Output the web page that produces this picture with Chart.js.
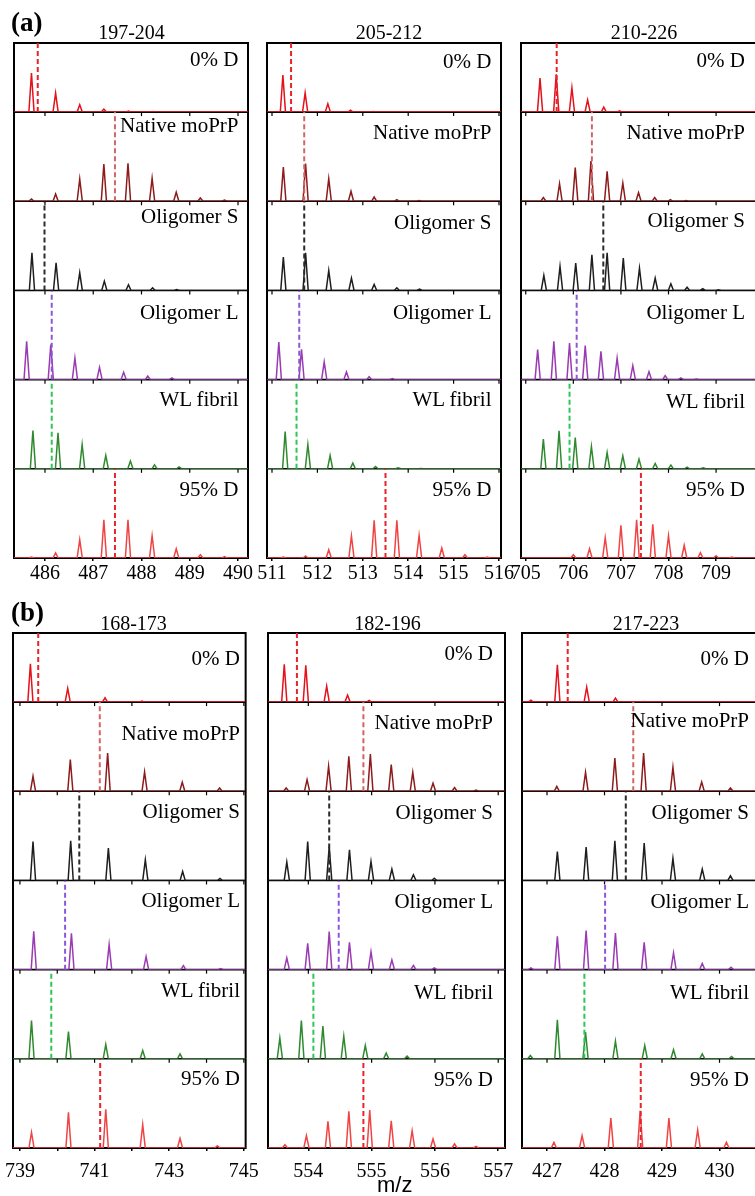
<!DOCTYPE html>
<html>
<head>
<meta charset="utf-8">
<script src="https://cdn.jsdelivr.net/npm/chart.js@4.4.0/dist/chart.umd.min.js"></script>
<style>
  body { margin: 0; background: #fff; }
  #fig { position: relative; width: 755px; height: 1196px; overflow: hidden;
         font-family: 'Liberation Serif', 'Times New Roman', serif; color: #000; }
  #fig canvas { position: absolute; }
  .lbl { position: absolute; font-size: 21px; line-height: 21px; white-space: nowrap; text-align: right; }
  .ttl { position: absolute; font-size: 20px; line-height: 20px; white-space: nowrap; text-align: center; width: 120px; }
  .pnl { position: absolute; font-size: 27px; line-height: 27px; font-weight: bold; }
  .mz  { position: absolute; font-family: 'Liberation Sans', Arial, sans-serif; font-size: 22px; line-height: 22px; }
</style>
</head>
<body>
<div id="fig"></div>
<script>
// row names, top to bottom
var rowLabels = ['0% D', 'Native moPrP', 'Oligomer S', 'Oligomer L', 'WL fibril', '95% D'];
var aTitles = ['197-204', '205-212', '210-226'];
var bTitles = ['168-173', '182-196', '217-223'];

// ---- (a) 197-204 ----
var a1Mz = [
  [485.72, 486.22, 486.72, 487.22, 487.73, 488.24],
  [485.72, 486.22, 486.72, 487.22, 487.72, 488.22, 488.72, 489.22, 489.72],
  [485.73, 486.23, 486.72, 487.23, 487.73, 488.23, 488.73],
  [485.62, 486.12, 486.62, 487.13, 487.63, 488.13, 488.63],
  [485.75, 486.27, 486.77, 487.26, 487.77, 488.27, 488.78],
  [485.72, 486.22, 486.72, 487.22, 487.72, 488.22, 488.72, 489.22, 489.72]
];
var a1Int = [
  [39, 19, 7.3, 3, 1, 0.5],
  [2.3, 7.3, 22.3, 37.3, 38, 23, 9, 3.3, 1.3],
  [37.7, 27.7, 17.7, 9.3, 5.7, 2.7, 1],
  [38.3, 35, 21.7, 12.3, 7.3, 3.7, 1.7],
  [38.3, 36, 24.3, 13.3, 7.7, 4, 2],
  [1, 5, 18.3, 38.3, 38.3, 22.3, 9.3, 3.3, 1.3]
];
var a1Centroid = [485.85, 487.45, 485.99, 486.14, 486.14, 487.45];
var a1Ticks = [486, 487, 488, 489, 490];
var a1TickLabels = ['486', '487', '488', '489', '490'];

// ---- (a) 205-212 ----
var a2Mz = [
  [511.24, 511.73, 512.23, 512.73, 513.23],
  [511.25, 511.74, 512.25, 512.74, 513.25, 513.75, 514.24],
  [511.25, 511.74, 512.25, 512.75, 513.25, 513.75, 514.25],
  [511.15, 511.65, 512.15, 512.64, 513.14, 513.65],
  [511.29, 511.79, 512.28, 512.78, 513.28, 513.78, 514.28],
  [511.25, 511.74, 512.25, 512.75, 513.25, 513.75, 514.24, 514.74, 515.25, 515.74]
];
var a2Int = [
  [37, 19.3, 8.3, 2, 0.7],
  [34.3, 37.7, 22.7, 10, 4.3, 1.7, 0.7],
  [33.3, 37.7, 20, 12.3, 6, 2.7, 1.3],
  [37.7, 30.3, 17.7, 7.7, 3, 1],
  [37.3, 24.3, 13.3, 5.7, 2.3, 1, 0.3],
  [1, 2, 8.3, 22, 37.7, 37.7, 22.7, 10, 3.3, 1]
];
var a2Centroid = [511.42, 511.71, 511.71, 511.60, 511.54, 513.50];
var a2Ticks = [511, 512, 513, 514, 515, 516];
var a2TickLabels = ['511', '512', '513', '514', '515', '516'];

// ---- (a) 210-226 ----
var a3Mz = [
  [705.30, 705.64, 705.97, 706.30, 706.64, 706.97, 707.30],
  [705.37, 705.71, 706.04, 706.37, 706.71, 707.04, 707.37, 707.71, 708.04, 708.37],
  [705.38, 705.72, 706.05, 706.39, 706.71, 707.05, 707.39, 707.72, 708.05, 708.39, 708.72, 709.05],
  [705.25, 705.59, 705.92, 706.25, 706.58, 706.92, 707.25, 707.59, 707.93, 708.26, 708.59],
  [705.37, 705.70, 706.04, 706.38, 706.71, 707.04, 707.38, 707.72, 708.05, 708.39, 708.73],
  [706.00, 706.34, 706.67, 707.00, 707.33, 707.67, 708.00, 708.33, 708.67, 709.00, 709.33]
];
var a3Int = [
  [34, 37.7, 24.3, 12.3, 5, 1.3, 0.3],
  [3.7, 17.7, 33.7, 40.3, 30, 18.3, 8.7, 3.7, 1.7, 0.7],
  [15, 24, 27.3, 35.7, 37.7, 32.3, 22.3, 12.3, 6.7, 3.3, 1.7, 0.7],
  [30, 38.3, 36.7, 34, 28.3, 21.7, 14, 8, 4, 1.7, 0.7],
  [29.7, 38, 31.3, 22.3, 16.3, 13, 9.7, 5.3, 3.7, 1.7, 1],
  [3.3, 9.3, 20.3, 32.7, 38.3, 33.7, 22.3, 12.7, 5.3, 2.3, 1]
];
var a3Centroid = [705.65, 706.39, 706.63, 706.07, 705.92, 707.42];
var a3Ticks = [705, 706, 707, 708, 709];
var a3TickLabels = ['705', '706', '707', '708', '709'];

// ---- (b) 168-173 ----
var b1Mz = [
  [739.28, 740.28, 741.28, 742.27],
  [739.35, 740.35, 741.35, 742.34, 743.35, 744.35],
  [739.35, 740.36, 741.37, 742.36, 743.36, 744.36],
  [739.37, 740.38, 741.39, 742.38, 743.38, 744.38],
  [739.31, 740.30, 741.30, 742.29, 743.29],
  [739.31, 740.30, 741.30, 742.29, 743.29, 744.29]
];
var b1Int = [
  [38.3, 13.7, 4.3, 1],
  [15, 31.7, 38.3, 19.3, 9, 3.3],
  [39, 39.7, 32.3, 20.7, 9, 2],
  [38.3, 36.3, 25, 13, 4, 1],
  [38.3, 27.3, 14.3, 8.3, 5],
  [15.7, 35.7, 38.7, 23.3, 9.7, 2.3]
];
var b1Centroid = [739.49, 741.14, 740.59, 740.21, 739.84, 741.15];
var b1Ticks = [739, 740, 741, 742, 743, 744, 745];
var b1TickLabels = ['739', '', '741', '', '743', '', '745'];

// ---- (b) 182-196 ----
var b2Mz = [
  [553.62, 553.96, 554.29, 554.62, 554.96],
  [553.65, 553.98, 554.32, 554.64, 554.98, 555.31, 555.65, 555.97, 556.31, 556.65],
  [553.66, 553.99, 554.33, 554.65, 554.99, 555.32, 555.66, 555.99],
  [553.66, 553.99, 554.33, 554.65, 554.99, 555.32, 555.66, 555.99],
  [553.55, 553.89, 554.23, 554.56, 554.90, 555.23, 555.56],
  [553.63, 553.97, 554.31, 554.64, 554.97, 555.31, 555.64, 555.97, 556.31, 556.65]
];
var b2Int = [
  [37.7, 36.7, 16, 7, 1.7],
  [3.3, 11.7, 25, 35, 37.3, 26.7, 19, 8, 3.7, 1.3],
  [18.3, 39, 34, 30.7, 19, 11.3, 5.7, 2.3],
  [11.7, 26.3, 38, 27.3, 18, 9.7, 4.3, 1.7],
  [20.7, 38.3, 32.7, 22.7, 13.3, 5.7, 2.7],
  [3.3, 12.3, 26.7, 36.7, 38, 27.3, 17.3, 9, 4, 1.7]
];
var b2Centroid = [553.82, 554.87, 554.33, 554.48, 554.08, 554.87];
var b2Ticks = [554, 555, 556, 557];
var b2TickLabels = ['554', '555', '556', '557'];

// ---- (b) 217-223 ----
var b3Mz = [
  [426.72, 427.18, 427.69, 428.19, 428.69],
  [427.17, 427.67, 428.18, 428.68, 429.19, 429.69, 430.19],
  [427.18, 427.68, 428.18, 428.69, 429.19, 429.70, 430.19],
  [426.72, 427.18, 427.68, 428.19, 428.69, 429.20, 429.70, 430.20],
  [426.71, 427.18, 427.67, 428.19, 428.70, 429.20, 429.70, 430.21],
  [427.12, 427.61, 428.11, 428.62, 429.12, 429.62, 430.12]
];
var b3Int = [
  [2, 37.3, 15, 4, 0.7],
  [5, 19, 33.3, 38.3, 24, 9.3, 3.3],
  [29, 33.3, 39.7, 37.3, 22, 11.3, 4.7],
  [1.7, 33.3, 39, 36.7, 27.3, 16.7, 6.3, 2.3],
  [3.3, 39, 26.7, 17.7, 13.3, 9, 5, 2.3],
  [5.7, 12.3, 30, 37.3, 30, 18, 5.7]
];
var b3Centroid = [427.36, 428.50, 428.37, 428.01, 427.65, 428.63];
var b3Ticks = [427, 428, 429, 430];
var b3TickLabels = ['427', '428', '429', '430'];

// ---------- styles / layout ----------
var traceColors = ['#e3121b', '#8c1b1b', '#1e1e1e', '#9a3bb3', '#2f8a2f', '#f04444'];
var dashColors  = ['#e8232b', '#d46464', '#2a2a2a', '#8a58d8', '#2ec55a', '#e8232b'];
var rowWeights = [0.775, 1, 1, 1, 1, 1];
var serif = "'Liberation Serif', 'Times New Roman', serif";

var panelA = { top: 43, bottom: 558, tickPad: 1, titleTop: 22 };
var panelB = { top: 633, bottom: 1148, tickPad: 9, titleTop: 613 };

var columns = [
  { panel: panelA, title: aTitles[0], mz: a1Mz, ints: a1Int, cen: a1Centroid, ticks: a1Ticks, tickLabels: a1TickLabels,
    min: 485.358, max: 490.207, box: [14, 248], titleX: 131.5, labelRight: 238.5, labelOff: [10, 7, 8, 15, 13, 14] },
  { panel: panelA, title: aTitles[1], mz: a2Mz, ints: a2Int, cen: a2Centroid, ticks: a2Ticks, tickLabels: a2TickLabels,
    min: 510.89, max: 516.044, box: [267, 501], titleX: 389, labelRight: 491.5, labelOff: [12, 14, 14, 15, 13, 14] },
  { panel: panelA, title: aTitles[2], mz: a3Mz, ints: a3Int, cen: a3Centroid, ticks: a3Ticks, tickLabels: a3TickLabels,
    min: 704.90, max: 709.86, box: [521, 757], titleX: 644, labelRight: 745, labelOff: [11, 14, 12, 15, 15, 14] },
  { panel: panelB, title: bTitles[0], mz: b1Mz, ints: b1Int, cen: b1Centroid, ticks: b1Ticks, tickLabels: b1TickLabels,
    min: 738.814, max: 745.048, box: [13, 248], titleX: 133.5, labelRight: 240, labelOff: [19, 25, 13, 13, 14, 13] },
  { panel: panelB, title: bTitles[1], mz: b2Mz, ints: b2Int, cen: b2Centroid, ticks: b2Ticks, tickLabels: b2TickLabels,
    min: 553.363, max: 557.107, box: [268, 505], titleX: 387.5, labelRight: 493, labelOff: [14, 14, 14, 14, 16, 14] },
  { panel: panelB, title: bTitles[2], mz: b3Mz, ints: b3Int, cen: b3Centroid, ticks: b3Ticks, tickLabels: b3TickLabels,
    min: 426.565, max: 430.652, box: [522, 757], titleX: 646, labelRight: 749, labelOff: [19, 12, 14, 14, 16, 14] }
];

var fig = document.getElementById('fig');

function addDiv(cls, text, css) {
  var d = document.createElement('div');
  d.className = cls;
  d.textContent = text;
  for (var k in css) d.style[k] = css[k];
  fig.appendChild(d);
  return d;
}

// peak sticks drawn as narrow spikes on a zero baseline
function traceData(mz, ints, xmin, xmax, hw) {
  var pts = [{ x: xmin, y: 0 }];
  for (var i = 0; i < mz.length; i++) {
    pts.push({ x: mz[i] - hw, y: 0 }, { x: mz[i], y: ints[i] }, { x: mz[i] + hw, y: 0 });
  }
  pts.push({ x: xmax, y: 0 });
  return pts;
}

// box, row separators and the small inward ticks under each separator
var framePlugin = {
  id: 'frame',
  beforeDatasetsDraw: function (chart) {
    var ctx = chart.ctx, a = chart.chartArea;
    ctx.save();
    ctx.strokeStyle = '#000';
    ctx.lineWidth = 2;
    ctx.strokeRect(a.left, a.top, a.right - a.left, a.bottom - a.top);
    ctx.lineWidth = 1.6;
    for (var r = 0; r < 5; r++) {
      var yb = chart.scales['y' + r].bottom;
      ctx.beginPath(); ctx.moveTo(a.left, yb); ctx.lineTo(a.right, yb); ctx.stroke();
    }
    ctx.lineWidth = 1.2;
    var xs = chart.scales.x;
    for (var r2 = 1; r2 < 6; r2++) {
      var yt = chart.scales['y' + r2].top;
      xs.ticks.forEach(function (t) {
        var px = xs.getPixelForValue(t.value);
        ctx.beginPath(); ctx.moveTo(px, yt); ctx.lineTo(px, yt + 4); ctx.stroke();
      });
    }
    ctx.restore();
  }
};

var unitH = (panelA.bottom - panelA.top) / 5.775;
var rowMax = rowWeights.map(function (w) { return w * unitH; });

columns.forEach(function (col) {
  var p = col.panel;
  var boxW = col.box[1] - col.box[0];
  var boxH = p.bottom - p.top;
  var cv = document.createElement('canvas');
  cv.width = boxW + 40;
  cv.height = boxH + 44;
  cv.style.left = (col.box[0] - 20) + 'px';
  cv.style.top = (p.top - 4) + 'px';
  fig.appendChild(cv);

  var hw = 2.6 * (col.max - col.min) / boxW;
  var datasets = [];
  var scales = {
    x: {
      type: 'linear', position: 'bottom', min: col.min, max: col.max,
      afterBuildTicks: function (s) { s.ticks = col.ticks.map(function (v) { return { value: v }; }); },
      afterFit: function (s) { s.height = 40; },
      ticks: {
        callback: function (v, i) { return col.tickLabels[i]; },
        font: { family: serif, size: 20 }, color: '#000',
        padding: p.tickPad, maxRotation: 0, autoSkip: false
      },
      grid: { drawOnChartArea: false, drawTicks: true, tickLength: 3, color: '#000', lineWidth: 1.5 },
      border: { display: false }
    }
  };

  for (var r = 0; r < 6; r++) {
    var id = 'y' + r;
    scales[id] = {
      type: 'linear', position: 'left', stack: 'rows', stackWeight: rowWeights[r], weight: 6 - r,
      min: 0, max: rowMax[r],
      ticks: { display: false }, grid: { display: false }, border: { display: false },
      afterFit: function (s) { s.width = 0; }
    };
    datasets.push({
      data: traceData(col.mz[r], col.ints[r], col.min, col.max, hw),
      yAxisID: id, borderColor: traceColors[r], borderWidth: 1.5,
      pointRadius: 0, tension: 0, fill: false, order: 1
    });
    datasets.push({
      data: [{ x: col.cen[r], y: 0 }, { x: col.cen[r], y: rowMax[r] }],
      yAxisID: id, borderColor: dashColors[r], borderWidth: 2, borderDash: [5, 3],
      pointRadius: 0, fill: false, order: 0
    });
  }

  var chart = new Chart(cv, {
    type: 'line',
    data: { datasets: datasets },
    options: {
      responsive: false, animation: false, devicePixelRatio: 1,
      layout: { padding: { left: 20, right: 20, top: 4, bottom: 0 } },
      plugins: { legend: { display: false }, tooltip: { enabled: false } },
      scales: scales
    },
    plugins: [framePlugin]
  });

  var canvasTop = p.top - 4;
  for (var r3 = 0; r3 < 6; r3++) {
    var s = chart.scales['y' + r3];
    addDiv('lbl', rowLabels[r3], {
      right: (755 - col.labelRight) + 'px',
      top: (canvasTop + s.top + col.labelOff[r3] - 3.7) + 'px'
    });
  }
  addDiv('ttl', col.title, { left: (col.titleX - 60) + 'px', top: p.titleTop + 'px' });
});

addDiv('pnl', '(a)', { left: '11px', top: '9px' });
addDiv('pnl', '(b)', { left: '11px', top: '599px' });
addDiv('mz', 'm/z', { left: '377px', top: '1174px' });
</script>
</body>
</html>
